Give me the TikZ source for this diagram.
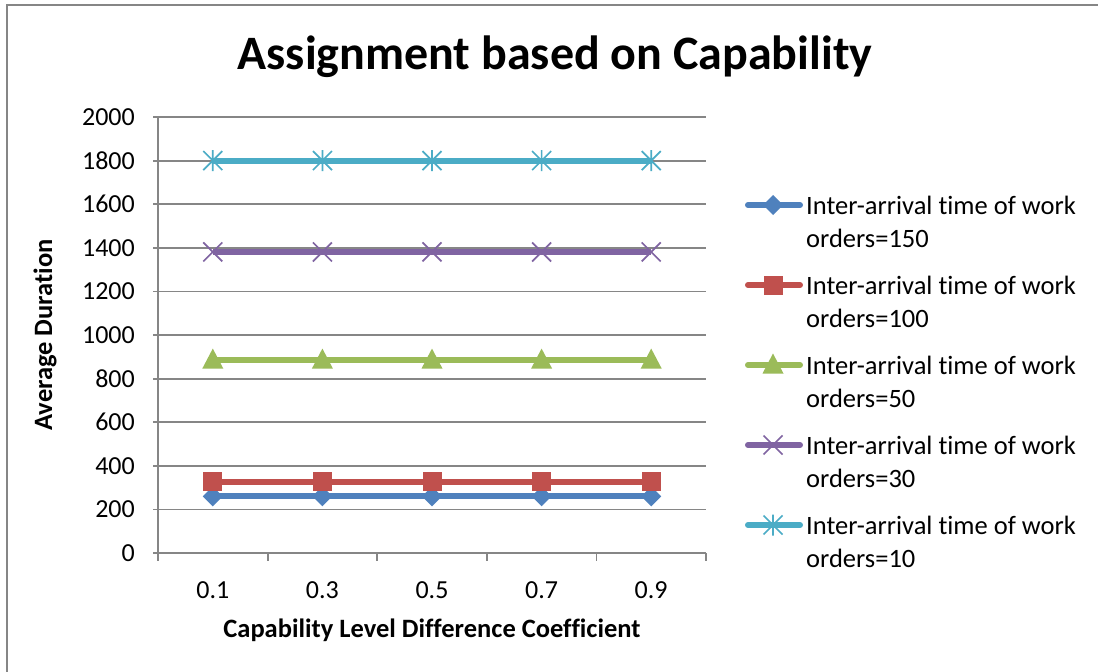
\documentclass[tikz,border=0pt]{standalone}
\usepackage{fontspec}
\setmainfont{Carlito}[Ligatures={NoCommon,NoRequired,NoContextual},Contextuals=NoAlternate]
\definecolor{sBlue}{HTML}{4F81BD}
\definecolor{sRed}{HTML}{C0504D}
\definecolor{sGreen}{HTML}{9BBB59}
\definecolor{sPurple}{HTML}{8064A2}
\definecolor{sCyan}{HTML}{4BACC6}
\definecolor{axGray}{HTML}{868686}
\tikzset{
  gridline/.style={draw=axGray, line width=1.8},
  serline/.style={line width=6, line cap=round},
  ticklbl/.style={font=\fontsize{26}{30}\selectfont, inner sep=0},
  legtxt/.style={font=\fontsize{26.5}{30}\selectfont, anchor=west, inner sep=0},
  axtitle/.style={font=\bfseries\fontsize{26.5}{30}\selectfont, inner sep=0},
  mdiamond/.pic={\fill (0,-10) -- (10,0) -- (0,10) -- (-10,0) -- cycle;},
  msquare/.pic={\fill (-9.5,-9.5) rectangle (9.5,9.5);},
  mtriangle/.pic={\fill (0,-11.5) -- (10.5,8.5) -- (-10.5,8.5) -- cycle;},
  mcross/.pic={\draw[line width=1.7] (-9.5,-9.5) -- (9.5,9.5) (-9.5,9.5) -- (9.5,-9.5);},
  mstar/.pic={\draw[line width=1.7] (-9.5,-9.5) -- (9.5,9.5) (-9.5,9.5) -- (9.5,-9.5) (0,-10.5) -- (0,10.5);},
}
\begin{document}
\begin{tikzpicture}[x=1pt,y=-1pt]
\useasboundingbox (0,0) rectangle (1098,672);
\fill[white] (0,0) rectangle (1098,672);
\draw[draw=axGray, line width=2.5] (7,672) -- (7,5) -- (1098,5);
% title
\node[font=\bfseries\fontsize{48}{56}\selectfont, inner sep=0] (title) at (555,57) {Assignment based on Capability};
% grid and y labels
\foreach \i in {0,...,10}{
  \pgfmathsetmacro{\yy}{553-43.6*\i}
  \pgfmathtruncatemacro{\vv}{200*\i}
  \draw[gridline] (153,\yy) -- (706,\yy);
  \node[ticklbl, anchor=east] (yl\i) at (135,\yy) {\vv};
}
\draw[gridline] (158,117) -- (158,553);
\foreach \j in {0,...,5}{
  \draw[gridline] ({158+109.6*\j},553) -- ({158+109.6*\j},561);
}
\foreach \lbl [count=\k from 0] in {0.1,0.3,0.5,0.7,0.9}{
  \node[ticklbl] (xl\k) at ({212.8+109.6*\k},590) {\lbl};
}
\node[axtitle] (xtitle) at (432,630) {Capability Level Difference Coef\kern0pt f\kern0pt icient};
\node[axtitle, rotate=90] (ytitle) at (45,335) {Average Duration};
% series
\foreach \val/\col/\mk in {260/sBlue/mdiamond, 326/sRed/msquare, 885/sGreen/mtriangle, 1381/sPurple/mcross, 1800/sCyan/mstar}{
  \pgfmathsetmacro{\yy}{553-0.218*\val}
  \draw[serline, draw=\col, line cap=butt] (212.8,\yy) -- (651.2,\yy);
  \foreach \k in {0,...,4}{
    \pic[fill=\col, draw=\col] at ({212.8+109.6*\k},\yy) {\mk};
  }
}
% legend
\foreach \lab/\col/\mk [count=\k from 0] in {150/sBlue/mdiamond, 100/sRed/msquare, 50/sGreen/mtriangle, 30/sPurple/mcross, 10/sCyan/mstar}{
  \pgfmathsetmacro{\yy}{205+80*\k}
  \draw[serline, draw=\col] (748,\yy) -- (800,\yy);
  \pic[fill=\col, draw=\col] at (773,\yy) {\mk};
  \node[legtxt] (leg\k a) at (806,\yy) {Inter-arrival t\kern0pt ime of work};
  \node[legtxt] (leg\k b) at (806,\yy+33) {orders=\lab};
}
\end{tikzpicture}
\end{document}
